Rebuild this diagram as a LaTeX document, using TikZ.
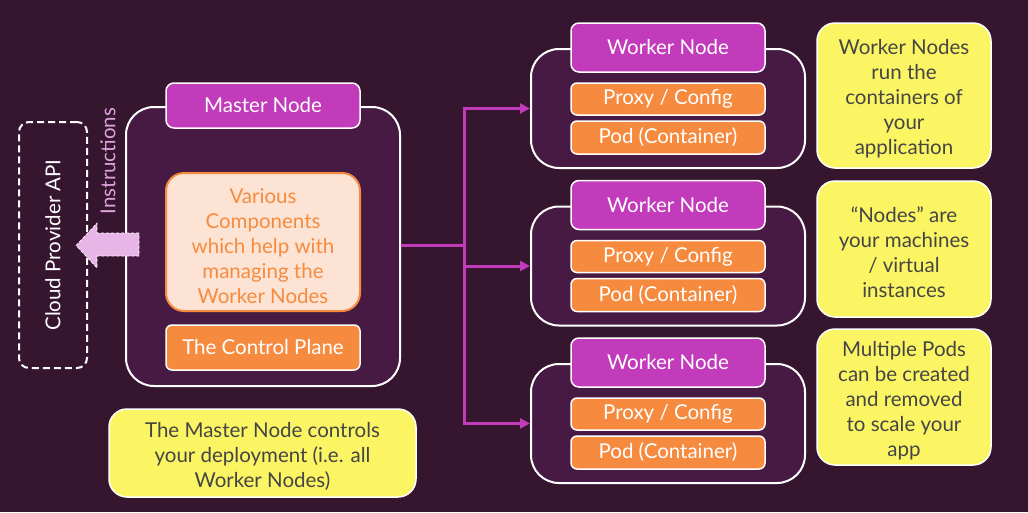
\documentclass[tikz,border=0pt]{standalone}
\usepackage{fontspec}
\setmainfont{Lato}
\usetikzlibrary{arrows.meta}
\definecolor{bg}{HTML}{36152F}
\definecolor{cont}{HTML}{461A42}
\definecolor{mag}{HTML}{C13BBA}
\definecolor{org}{HTML}{F68B40}
\definecolor{peach}{HTML}{FDE3D3}
\definecolor{yel}{HTML}{FBF563}
\definecolor{note}{HTML}{454545}
\definecolor{pinkarrow}{HTML}{E8B6E6}
\definecolor{instr}{HTML}{DDA3DA}
\newcommand{\firstlinestrut}{\rule{0pt}{22.5pt}}
\tikzset{
  txt/.style={font=\fontsize{20.5}{25}\selectfont},
  container/.style={draw=white, line width=2pt, fill=cont, rounded corners=28pt, inner sep=0pt},
  maglabel/.style={txt, draw=white, line width=1.5pt, fill=mag, text=white, rounded corners=8pt, minimum width=194pt, inner sep=0pt},
  orgbox/.style={txt, draw=white, line width=1.5pt, fill=org, text=white, rounded corners=6pt, minimum width=194pt, inner sep=0pt},
  notebox/.style={txt, draw=white, line width=1.5pt, fill=yel, text=note, rounded corners=18pt, align=center, inner sep=0pt},
  conn/.style={draw=mag, line width=3pt},
  connarrow/.style={conn, -{Triangle[length=10pt,width=10pt]}}
}
\begin{document}
\begin{tikzpicture}[x=1pt,y=-1pt]
\fill[bg] (0,0) rectangle (1028,512);
\useasboundingbox (0,0) rectangle (1028,512);

% Master
\node[container, minimum width=274pt, minimum height=279pt] (master) at (263,246.5) {};
\node[maglabel, minimum height=45pt] (mlabel) at (263,105.5) {Master Node};
\node[txt, draw=org, line width=2pt, fill=peach, text=org, rounded corners=18pt, minimum width=194pt, minimum height=138pt, inner sep=0pt, align=center] (various) at (263,242) {\firstlinestrut Various\\Components\\which help with\\managing the\\Worker Nodes};
\node[orgbox, minimum height=45pt] (cplane) at (263,347.5) {The Control Plane};

% Cloud provider
\node[draw=white, dashed, line width=2pt, dash pattern=on 7pt off 4pt, rounded corners=10pt, minimum width=68pt, minimum height=246pt, inner sep=0pt] (cloud) at (53,245) {};
\node[txt, text=white, rotate=90] (cloudtxt) at (cloud.center) {Cloud Provider API};
\node[txt, text=instr, rotate=90] (instr) at (108,161) {Instructions};
\fill[pinkarrow, draw=white, densely dashed, line width=0.6pt] (139,233) -- (97,233) -- (97,223) -- (76,245.5) -- (97,268) -- (97,256) -- (139,256) -- cycle;

% Workers
\foreach \i/\dy in {1/0,2/157.5,3/315}{
  \node[container, minimum width=274pt, minimum height=119pt] (w\i) at (668,108.5+\dy) {};
  \node[maglabel, minimum height=49pt] (wl\i) at (668,47.5+\dy) {Worker Node};
  \node[orgbox, minimum height=32pt] (px\i) at (668,99+\dy) {Proxy / Config};
  \node[orgbox, minimum height=33pt] (pd\i) at (668,137.5+\dy) {Pod (Container)};
}

% Connectors
\coordinate (hub) at (464,245);
\draw[conn] (master.east |- hub) -- (hub);
\draw[connarrow] (hub) |- (w1.west);
\draw[connarrow] (hub) |- (w2.west);
\draw[connarrow] (hub) |- (w3.west);

% Notes
\node[notebox, minimum width=174pt, minimum height=145pt] (n1) at (904,95.5) {\firstlinestrut Worker Nodes\\run the\\containers of\\your\\application};
\node[notebox, minimum width=174pt, minimum height=136pt] (n2) at (904,249) {\firstlinestrut “Nodes” are\\your machines\\/ virtual\\instances};
\node[notebox, minimum width=174pt, minimum height=136pt] (n3) at (904,397) {\firstlinestrut Multiple Pods\\can be created\\and removed\\to scale your\\app};
\node[notebox, minimum width=307pt, minimum height=88pt] (n4) at (262.5,453) {\firstlinestrut The Master Node controls\\your deployment (i.e. all\\Worker Nodes)};
\end{tikzpicture}
\end{document}
